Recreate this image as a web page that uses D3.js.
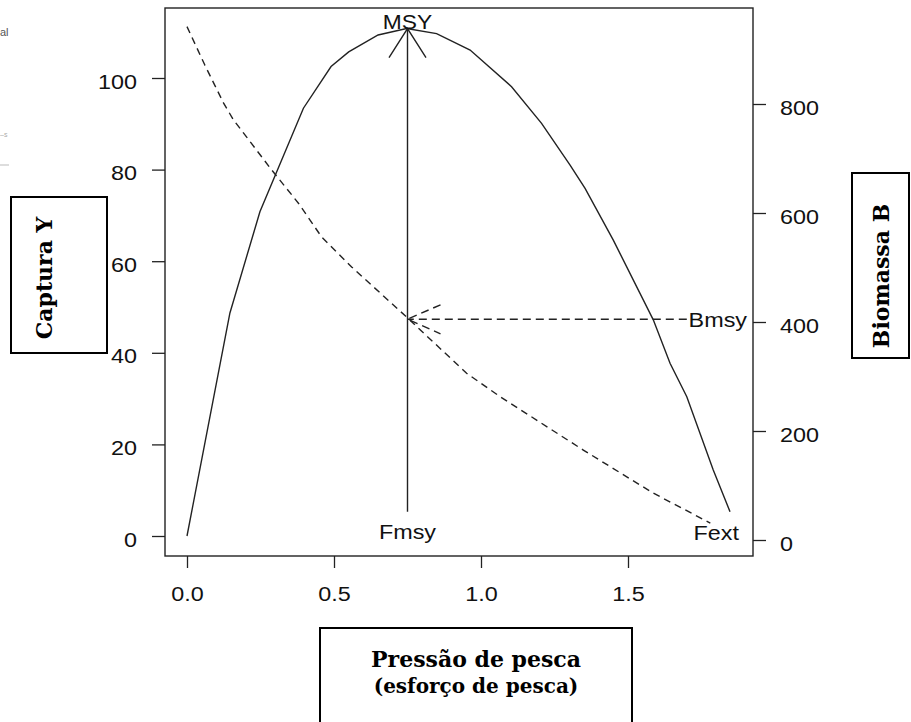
<!DOCTYPE html>
<html>
<head>
<meta charset="utf-8">
<script src="https://cdn.jsdelivr.net/npm/d3@7"></script>
<style>
  body { margin: 0; background: #fff; }
  svg { display: block; }
</style>
</head>
<body>
<div id="chart"></div>
<script>
// yield curve (solid, left axis)
const catchF = [0, 0.146, 0.248, 0.396, 0.49, 0.55, 0.65, 0.747, 0.849, 0.963, 1.104, 1.206, 1.303, 1.354, 1.45, 1.586, 1.643, 1.70, 1.79, 1.847];
const catchY = [0, 48.7, 70.8, 93.4, 102.5, 105.7, 109.4, 110.8, 109.7, 106.1, 98.1, 90.1, 81.0, 75.9, 64.6, 47.2, 37.7, 30.4, 14.4, 5.3];

// biomass curve (dashed, right axis)
const biomassF = [0, 0.061, 0.125, 0.158, 0.288, 0.379, 0.458, 0.56, 0.747, 0.951, 1.065, 1.348, 1.586, 1.78];
const biomassB = [942, 871, 801, 771, 679, 618, 556, 501, 409, 306, 263, 165, 86, 31];

// axis ticks
const xTicks = [0, 0.5, 1.0, 1.5];
const yLeftTicks = [0, 20, 40, 60, 80, 100];
const yRightTicks = [0, 200, 400, 600, 800];

// reference points
const Fmsy = 0.75;
const MSY = 110.8;
const arrowBaseY = 5.3;
const Bmsy = 405;
const bmsyLabelF = 1.70;
const Fext = 1.80;

const width = 911;
const height = 722;
const box = { left: 165, top: 8, right: 753, bottom: 556 };
const ink = '#222';
const stretch = 1.14; // the source picture is a bit wider than tall

const x = d3.scaleLinear().domain([0, 1.5]).range([187, 628]);
const yL = d3.scaleLinear().domain([0, 100]).range([536, 78]);
const yR = d3.scaleLinear().domain([0, 800]).range([540, 104]);

const svg = d3.select('#chart')
    .append('svg')
    .attr('width', width)
    .attr('height', height)
    .style('font-family', '"Liberation Sans", Arial, sans-serif');

svg.append('rect').attr('width', width).attr('height', height).attr('fill', '#fff');

// widen text horizontally around its own anchor
function widen(sel) {
    sel.each(function () {
        const t = d3.select(this);
        const x0 = +t.attr('x') || 0;
        t.attr('x', x0 / stretch).attr('transform', `scale(${stretch},1)`);
    });
}

function label(px, py, str, anchor, size) {
    const g = svg.append('g').attr('transform', `translate(${px},${py})`);
    g.append('text')
        .attr('text-anchor', anchor)
        .attr('font-size', size + 'px')
        .attr('fill', '#111')
        .attr('transform', `scale(${stretch},1)`)
        .text(str);
}

// leftover bits of the page the figure was cut from
svg.append('text').attr('x', 0).attr('y', 36).attr('font-size', '11px').attr('fill', '#555').text('al');
svg.append('text').attr('x', 0).attr('y', 137).attr('font-size', '7px').attr('fill', '#aaa').text('–s');
svg.append('line').attr('x1', 0).attr('x2', 9).attr('y1', 165).attr('y2', 165).attr('stroke', '#bbb');

// left axis
const gL = svg.append('g')
    .attr('transform', `translate(${box.left},0)`)
    .call(d3.axisLeft(yL).tickValues(yLeftTicks).tickFormat(d3.format('d')).tickSize(13).tickPadding(15));
gL.select('.domain').remove();
gL.selectAll('line').attr('stroke', ink).attr('stroke-width', 1.3);
gL.selectAll('text').attr('x', -28).attr('dy', 10).attr('font-size', '20.5px').attr('fill', '#111')
    .attr('font-family', '"Liberation Sans", Arial, sans-serif').call(widen);

// right axis
const gR = svg.append('g')
    .attr('transform', `translate(${box.right},0)`)
    .call(d3.axisRight(yR).tickValues(yRightTicks).tickFormat(d3.format('d')).tickSize(13));
gR.select('.domain').remove();
gR.selectAll('line').attr('stroke', ink).attr('stroke-width', 1.3);
gR.selectAll('text').attr('x', 27).attr('dy', 10).attr('font-size', '20.5px').attr('fill', '#111')
    .attr('font-family', '"Liberation Sans", Arial, sans-serif').call(widen);

// bottom axis
const gB = svg.append('g')
    .attr('transform', `translate(0,${box.bottom})`)
    .call(d3.axisBottom(x).tickValues(xTicks).tickFormat(d3.format('.1f')).tickSize(12));
gB.select('.domain').remove();
gB.selectAll('line').attr('stroke', ink).attr('stroke-width', 1.3);
gB.selectAll('text').attr('y', 45).attr('dy', 0).attr('font-size', '20.5px').attr('fill', '#111')
    .attr('font-family', '"Liberation Sans", Arial, sans-serif').call(widen);

// plot frame
svg.append('rect')
    .attr('x', box.left).attr('y', box.top)
    .attr('width', box.right - box.left).attr('height', box.bottom - box.top)
    .attr('fill', 'none').attr('stroke', ink).attr('stroke-width', 1.4);

// curves
const catchLine = d3.line().x(d => x(d[0])).y(d => yL(d[1]));
svg.append('path')
    .datum(d3.zip(catchF, catchY))
    .attr('d', catchLine)
    .attr('fill', 'none').attr('stroke', ink).attr('stroke-width', 1.4);

const biomassLine = d3.line().x(d => x(d[0])).y(d => yR(d[1]));
svg.append('path')
    .datum(d3.zip(biomassF, biomassB))
    .attr('d', biomassLine)
    .attr('fill', 'none').attr('stroke', ink).attr('stroke-width', 1.4)
    .attr('stroke-dasharray', '7,5');

// vertical arrow up to MSY
const ax = x(Fmsy), ayTop = yL(MSY);
svg.append('line')
    .attr('x1', ax).attr('x2', ax).attr('y1', yL(arrowBaseY)).attr('y2', ayTop)
    .attr('stroke', ink).attr('stroke-width', 1.4);
svg.append('path')
    .attr('d', `M${ax - 18.5},${ayTop + 29}L${ax},${ayTop}L${ax + 18.5},${ayTop + 29}`)
    .attr('fill', 'none').attr('stroke', ink).attr('stroke-width', 1.4);

// dashed arrow from Bmsy to the curve
const hy = yR(Bmsy), hx = x(Fmsy);
svg.append('line')
    .attr('x1', x(bmsyLabelF)).attr('x2', hx).attr('y1', hy).attr('y2', hy)
    .attr('stroke', ink).attr('stroke-width', 1.4).attr('stroke-dasharray', '8,5');
svg.append('path')
    .attr('d', `M${hx + 33},${hy - 14.5}L${hx},${hy}L${hx + 33},${hy + 14.5}`)
    .attr('fill', 'none').attr('stroke', ink).attr('stroke-width', 1.4).attr('stroke-dasharray', '8,5');

// labels in the plot
label(ax, ayTop + 0.5, 'MSY', 'middle', 20);
label(ax, yL(0) + 3, 'Fmsy', 'middle', 20.5);
label(x(Fext), yL(0) + 4, 'Fext', 'middle', 20.5);
label(box.right - 6, hy + 7.5, 'Bmsy', 'end', 20.5);

// boxed axis titles
const serif = '"DejaVu Serif", "Liberation Serif", serif';

svg.append('rect').attr('x', 11).attr('y', 197).attr('width', 96).attr('height', 156)
    .attr('fill', 'none').attr('stroke', '#000').attr('stroke-width', 2);
svg.append('text')
    .attr('transform', 'translate(52,278) rotate(-90)')
    .attr('text-anchor', 'middle')
    .attr('font-family', serif).attr('font-weight', 'bold').attr('font-size', '22px')
    .text('Captura Y');

svg.append('rect').attr('x', 852).attr('y', 173).attr('width', 57).attr('height', 185)
    .attr('fill', 'none').attr('stroke', '#000').attr('stroke-width', 2);
svg.append('text')
    .attr('transform', 'translate(889,276) rotate(-90)')
    .attr('text-anchor', 'middle')
    .attr('font-family', serif).attr('font-weight', 'bold').attr('font-size', '22px')
    .text('Biomassa B');

svg.append('rect').attr('x', 320).attr('y', 628).attr('width', 312).attr('height', 110)
    .attr('fill', 'none').attr('stroke', '#000').attr('stroke-width', 2);
svg.append('text')
    .attr('x', 476).attr('y', 667)
    .attr('text-anchor', 'middle')
    .attr('font-family', serif).attr('font-weight', 'bold').attr('font-size', '22px')
    .text('Pressão de pesca');
svg.append('text')
    .attr('x', 476).attr('y', 693)
    .attr('text-anchor', 'middle')
    .attr('font-family', serif).attr('font-weight', 'bold').attr('font-size', '20px')
    .text('(esforço de pesca)');
</script>
</body>
</html>
